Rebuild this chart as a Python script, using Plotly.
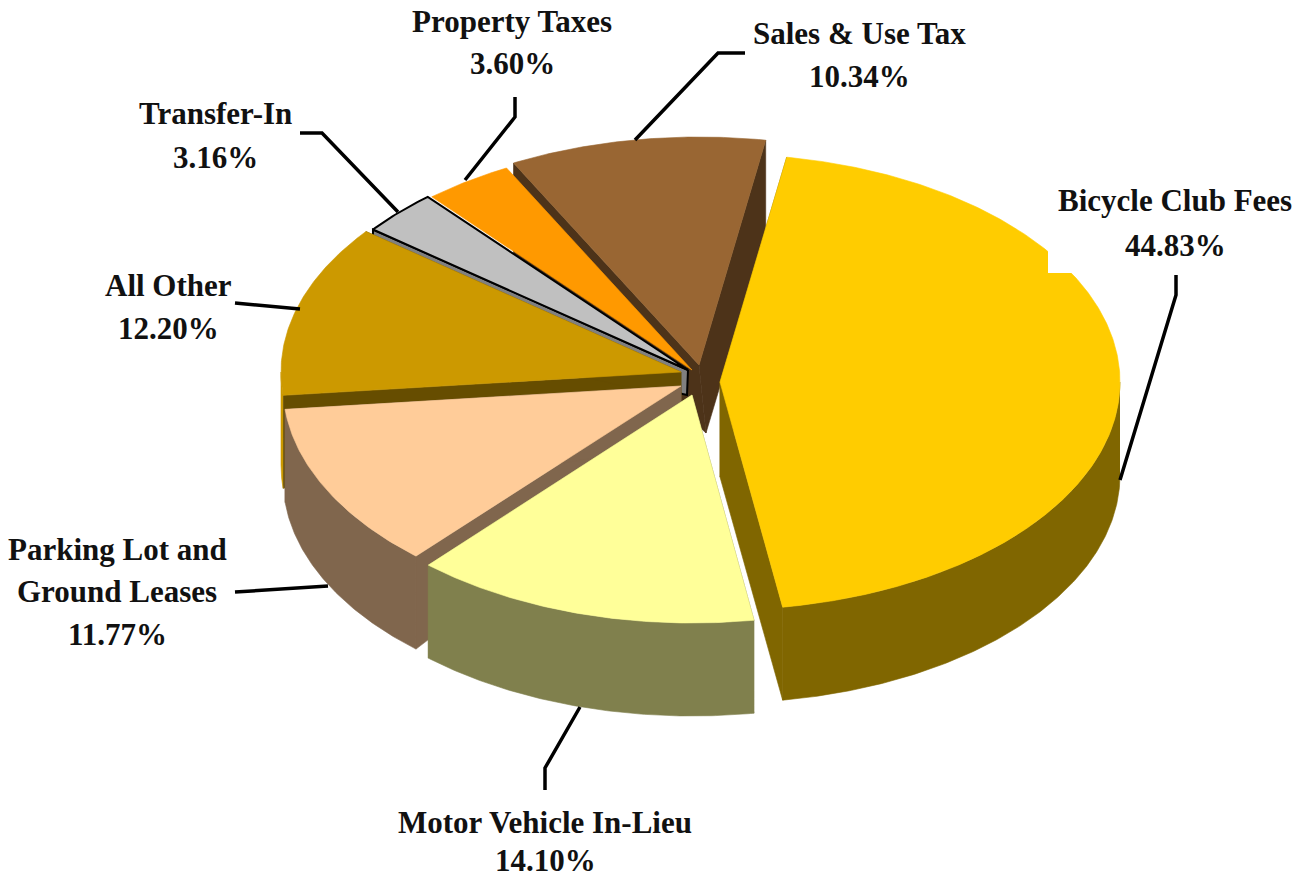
import numpy as np
import plotly.graph_objects as go

# ---- data (clockwise from the largest slice)
categories = ["Bicycle Club Fees", "Motor Vehicle In-Lieu", "Parking Lot and Ground Leases",
              "All Other", "Transfer-In", "Property Taxes", "Sales & Use Tax"]
shares = [44.83, 14.10, 11.77, 12.20, 3.16, 3.60, 10.34]

# ---- styling of the tilted pie
top_colors = ["#FFCC00", "#FFFF99", "#FFCC99", "#CC9900", "#C0C0C0", "#FF9900", "#996633"]
wall_colors = ["#806600", "#80804D", "#80664D", "#CC9900", "#808080", "#FF9900", "#996633"]
cut_colors = ["#806600", "#80804D", "#80664D", "#664D00", "#808080", "#805000", "#4D3319"]
hubs = [(720, 382), (692, 395), (681, 386), (681, 372), (688, 370), (692, 370), (699, 365)]
hub_drop = [(0, 95), (0, 60), (0, 60), (0, 28), (-1, 25), (0, 0), (7, 68)]
rx_scale = [1.0, 0.99, 0.995, 1.0, 1.0, 1.0, 1.0]
RX, RY, DEPTH = 400, 228, 93
START = 9.6
DRAW_ORDER = [6, 5, 4, 3, 2, 0, 1]

label_lines = {
    "Bicycle Club Fees": (["Bicycle Club Fees"], (1175, 200), 45),
    "Motor Vehicle In-Lieu": (["Motor Vehicle In-Lieu"], (545, 822), 38),
    "Parking Lot and Ground Leases": (["Parking Lot and", "Ground Leases"], (117, 549), 42.5),
    "All Other": (["All Other"], (168, 285), 43),
    "Transfer-In": (["Transfer-In"], (215, 113), 44),
    "Property Taxes": (["Property Taxes"], (512, 21), 42),
    "Sales & Use Tax": (["Sales & Use Tax"], (859, 33), 43),
}
leaders = [
    ([1176, 1176, 1120], [275, 295, 480]),
    ([580, 545, 545], [707, 768, 790]),
    ([235, 328], [592, 586]),
    ([235, 300], [303, 309]),
    ([300, 322, 398], [133, 133, 212]),
    ([515, 515, 465], [97, 117, 180]),
    ([745, 718, 635], [53, 53, 140]),
]


def arc(hub, t0, t1, scale=1.0, dy=0):
    t = np.radians(np.linspace(t0, t1, max(int(abs(t1 - t0)) * 2, 2)))
    return hub[0] + RX * scale * np.sin(t), hub[1] - RY * np.cos(t) + dy


def poly(fig, xs, ys, color, name, outline=None):
    fig.add_trace(go.Scatter(
        x=list(xs), y=list(ys), mode="lines", fill="toself", fillcolor=color,
        line=dict(color=outline or color, width=2 if outline else 0.6),
        name=name, hoverinfo="name", showlegend=False))


fig = go.Figure()
edges = START + np.concatenate([[0], np.cumsum(shares)]) * 3.6 * 100 / sum(shares)

for i in DRAW_ORDER:
    name, t0, t1 = categories[i], edges[i], edges[i + 1]
    hub, drop, sc = hubs[i], hub_drop[i], rx_scale[i]
    sx, sy = arc(hub, t0, t0, sc)
    ex, ey = arc(hub, t1, t1, sc)
    is_transfer = name == "Transfer-In"
    outline = "#000000" if is_transfer else None
    # the two cut faces
    if drop[1] > 0:
        poly(fig, [hub[0], sx[0], sx[0], hub[0] + drop[0], hub[0]],
             [hub[1], sy[0], sy[0] + DEPTH, hub[1] + drop[1], hub[1]], cut_colors[i], name, outline)
        if not is_transfer:
            poly(fig, [hub[0], ex[0], ex[0], hub[0] + drop[0], hub[0]],
                 [hub[1], ey[0], ey[0] + DEPTH, hub[1] + drop[1], hub[1]], cut_colors[i], name)
    # outer wall, only the near half of the rim shows
    a0, a1 = max(t0, 90), min(t1, 270)
    if a1 > a0:
        ax, ay = arc(hub, a0, a1, sc)
        bx, by = arc(hub, a1, a0, sc, DEPTH)
        poly(fig, np.r_[ax, bx], np.r_[ay, by], wall_colors[i], name)
    # top face
    ax, ay = arc(hub, t0, t1, sc)
    poly(fig, np.r_[hub[0], ax, hub[0]], np.r_[hub[1], ay, hub[1]], top_colors[i], name, outline)

# leader lines
for lx, ly in leaders:
    fig.add_trace(go.Scatter(x=lx, y=ly, mode="lines", line=dict(color="#000000", width=3.5),
                             hoverinfo="skip", showlegend=False))

# labels
FONT = dict(family="Liberation Serif", size=31, color="#111111")
ann = []
for name, val in zip(categories, shares):
    lines, (cx, cy), step = label_lines[name]
    for k, txt in enumerate(lines + [f"{val:.2f}%"]):
        ann.append(dict(x=cx, y=cy + k * step, text=f"<b>{txt}</b>", showarrow=False,
                        xanchor="center", yanchor="middle", font=FONT))

fig.update_layout(
    width=1299, height=878, margin=dict(l=0, r=0, t=0, b=0),
    paper_bgcolor="#FFFFFF", plot_bgcolor="#FFFFFF", showlegend=False,
    xaxis=dict(range=[0, 1299], visible=False, fixedrange=True),
    yaxis=dict(range=[878, 0], visible=False, fixedrange=True),
    annotations=ann,
    # the label box of the source clips a corner of the largest slice
    shapes=[dict(type="rect", xref="x", yref="y", x0=1048, x1=1299, y0=170, y1=273,
                 fillcolor="#FFFFFF", line=dict(width=0), layer="above")],
)
fig.write_html("out.html", config={"displayModeBar": False},
               post_script="document.body.style.margin='0';document.body.style.overflow='hidden';")
